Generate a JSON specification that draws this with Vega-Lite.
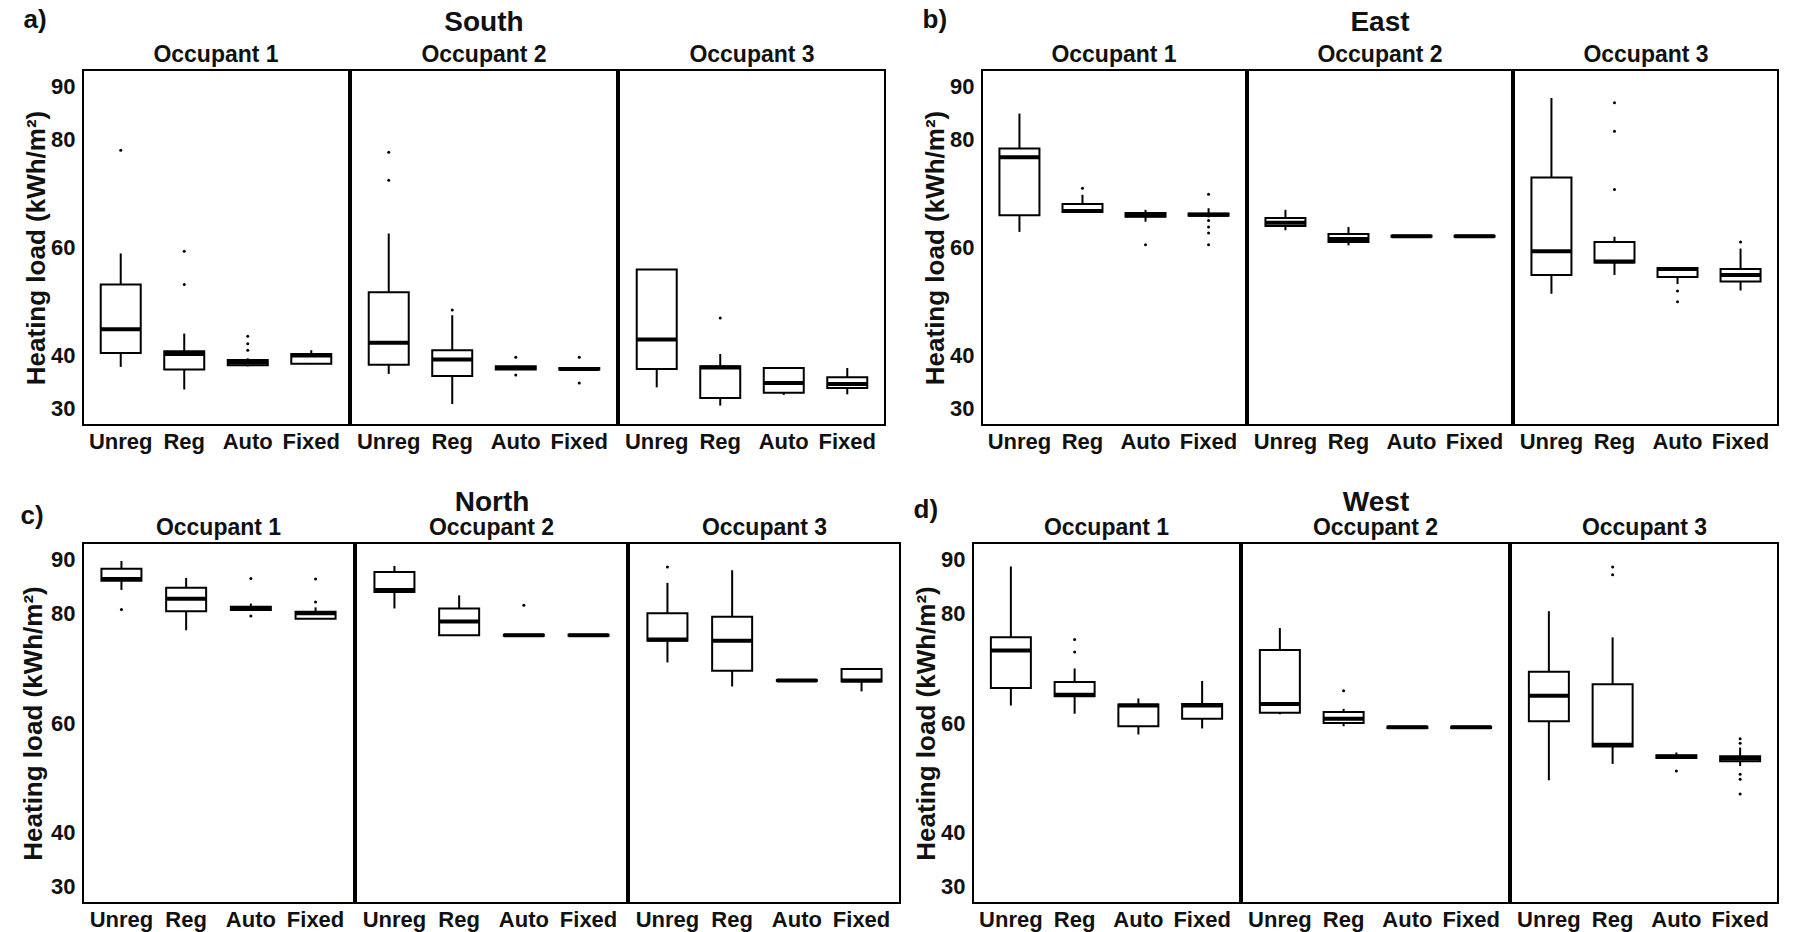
{
 "$schema": "https://vega.github.io/schema/vega-lite/v6.json",
 "background": "white",
 "padding": {"left": 20, "top": 7, "right": 5, "bottom": 2},
 "config": {
  "font": "Liberation Sans",
  "view": {"stroke": "black", "strokeWidth": 2},
  "axis": {"labelFontSize": 22, "labelFontWeight": "bold", "labelColor": "#111", "titleFontSize": 26, "titleFontWeight": "bold", "titleColor": "#111", "grid": false, "domain": false, "ticks": false},
  "header": {"labelFontSize": 23, "labelFontWeight": "bold", "labelColor": "#111", "titleFontSize": 28, "titleFontWeight": "bold", "titleColor": "#111"},
  "title": {"fontSize": 26, "fontWeight": "bold", "color": "#111", "anchor": "start"}
 },
 "datasets": {
  "d": [
   {"p":"South","o":"Occupant 1","c":"Unreg","lo":37.8,"q1":40.4,"med":44.8,"q3":53.1,"hi":58.9},
   {"p":"South","o":"Occupant 1","c":"Unreg","v":78.1},
   {"p":"South","o":"Occupant 1","c":"Reg","lo":33.6,"q1":37.3,"med":40.2,"q3":40.7,"hi":44.0},
   {"p":"South","o":"Occupant 1","c":"Reg","v":59.3},
   {"p":"South","o":"Occupant 1","c":"Reg","v":53.1},
   {"p":"South","o":"Occupant 1","c":"Auto","lo":37.9,"q1":38.1,"med":38.6,"q3":39.1,"hi":39.4},
   {"p":"South","o":"Occupant 1","c":"Auto","v":43.5},
   {"p":"South","o":"Occupant 1","c":"Auto","v":42.1},
   {"p":"South","o":"Occupant 1","c":"Auto","v":40.9},
   {"p":"South","o":"Occupant 1","c":"Fixed","lo":38.3,"q1":38.4,"med":39.9,"q3":40.2,"hi":40.9},
   {"p":"South","o":"Occupant 2","c":"Unreg","lo":36.5,"q1":38.2,"med":42.3,"q3":51.7,"hi":62.6},
   {"p":"South","o":"Occupant 2","c":"Unreg","v":77.7},
   {"p":"South","o":"Occupant 2","c":"Unreg","v":72.5},
   {"p":"South","o":"Occupant 2","c":"Reg","lo":30.9,"q1":36.1,"med":39.2,"q3":40.9,"hi":47.4},
   {"p":"South","o":"Occupant 2","c":"Reg","v":48.4},
   {"p":"South","o":"Occupant 2","c":"Auto","lo":37.2,"q1":37.3,"med":37.6,"q3":37.9,"hi":38.0},
   {"p":"South","o":"Occupant 2","c":"Auto","v":39.6},
   {"p":"South","o":"Occupant 2","c":"Auto","v":36.3},
   {"p":"South","o":"Occupant 2","c":"Fixed","lo":37.2,"q1":37.3,"med":37.4,"q3":37.6,"hi":37.7},
   {"p":"South","o":"Occupant 2","c":"Fixed","v":39.6},
   {"p":"South","o":"Occupant 2","c":"Fixed","v":34.8},
   {"p":"South","o":"Occupant 3","c":"Unreg","lo":34.0,"q1":37.4,"med":42.9,"q3":55.9,"hi":55.9},
   {"p":"South","o":"Occupant 3","c":"Reg","lo":30.6,"q1":32.0,"med":37.7,"q3":37.9,"hi":40.2},
   {"p":"South","o":"Occupant 3","c":"Reg","v":46.9},
   {"p":"South","o":"Occupant 3","c":"Auto","lo":32.6,"q1":33.0,"med":34.8,"q3":37.6,"hi":37.6},
   {"p":"South","o":"Occupant 3","c":"Fixed","lo":32.7,"q1":33.9,"med":34.6,"q3":35.9,"hi":37.6},

   {"p":"East","o":"Occupant 1","c":"Unreg","lo":62.9,"q1":66.0,"med":76.8,"q3":78.4,"hi":84.9},
   {"p":"East","o":"Occupant 1","c":"Reg","lo":66.6,"q1":66.6,"med":66.8,"q3":68.1,"hi":69.8},
   {"p":"East","o":"Occupant 1","c":"Reg","v":71.0},
   {"p":"East","o":"Occupant 1","c":"Auto","lo":64.8,"q1":65.7,"med":66.0,"q3":66.4,"hi":67.0},
   {"p":"East","o":"Occupant 1","c":"Auto","v":60.5},
   {"p":"East","o":"Occupant 1","c":"Fixed","lo":65.6,"q1":65.9,"med":66.1,"q3":66.3,"hi":67.3},
   {"p":"East","o":"Occupant 1","c":"Fixed","v":69.9},
   {"p":"East","o":"Occupant 1","c":"Fixed","v":65.0},
   {"p":"East","o":"Occupant 1","c":"Fixed","v":63.8},
   {"p":"East","o":"Occupant 1","c":"Fixed","v":62.7},
   {"p":"East","o":"Occupant 1","c":"Fixed","v":60.5},
   {"p":"East","o":"Occupant 2","c":"Unreg","lo":63.2,"q1":64.0,"med":64.6,"q3":65.5,"hi":67.0},
   {"p":"East","o":"Occupant 2","c":"Reg","lo":60.4,"q1":61.0,"med":61.6,"q3":62.5,"hi":63.8},
   {"p":"East","o":"Occupant 2","c":"Auto","lo":62.0,"q1":62.0,"med":62.1,"q3":62.2,"hi":62.2},
   {"p":"East","o":"Occupant 2","c":"Fixed","lo":62.0,"q1":62.0,"med":62.1,"q3":62.2,"hi":62.2},
   {"p":"East","o":"Occupant 3","c":"Unreg","lo":51.4,"q1":54.9,"med":59.3,"q3":73.0,"hi":87.8},
   {"p":"East","o":"Occupant 3","c":"Reg","lo":54.9,"q1":57.2,"med":57.4,"q3":61.0,"hi":62.0},
   {"p":"East","o":"Occupant 3","c":"Reg","v":86.9},
   {"p":"East","o":"Occupant 3","c":"Reg","v":81.6},
   {"p":"East","o":"Occupant 3","c":"Reg","v":70.8},
   {"p":"East","o":"Occupant 3","c":"Auto","lo":53.2,"q1":54.5,"med":56.0,"q3":56.2,"hi":56.2},
   {"p":"East","o":"Occupant 3","c":"Auto","v":51.9},
   {"p":"East","o":"Occupant 3","c":"Auto","v":49.9},
   {"p":"East","o":"Occupant 3","c":"Fixed","lo":52.0,"q1":53.7,"med":54.9,"q3":56.0,"hi":59.8},
   {"p":"East","o":"Occupant 3","c":"Fixed","v":61.0},

   {"p":"North","o":"Occupant 1","c":"Unreg","lo":84.4,"q1":86.1,"med":86.4,"q3":88.3,"hi":89.7},
   {"p":"North","o":"Occupant 1","c":"Unreg","v":80.8},
   {"p":"North","o":"Occupant 1","c":"Reg","lo":77.0,"q1":80.5,"med":82.8,"q3":84.8,"hi":86.6},
   {"p":"North","o":"Occupant 1","c":"Auto","lo":80.7,"q1":80.7,"med":81.0,"q3":81.3,"hi":81.9},
   {"p":"North","o":"Occupant 1","c":"Auto","v":86.5},
   {"p":"North","o":"Occupant 1","c":"Auto","v":79.6},
   {"p":"North","o":"Occupant 1","c":"Fixed","lo":79.1,"q1":79.1,"med":80.1,"q3":80.4,"hi":81.2},
   {"p":"North","o":"Occupant 1","c":"Fixed","v":86.4},
   {"p":"North","o":"Occupant 1","c":"Fixed","v":82.2},
   {"p":"North","o":"Occupant 2","c":"Unreg","lo":81.0,"q1":84.0,"med":84.4,"q3":87.7,"hi":88.8},
   {"p":"North","o":"Occupant 2","c":"Reg","lo":76.1,"q1":76.1,"med":78.6,"q3":81.0,"hi":83.4},
   {"p":"North","o":"Occupant 2","c":"Auto","lo":76.0,"q1":76.0,"med":76.1,"q3":76.2,"hi":76.2},
   {"p":"North","o":"Occupant 2","c":"Auto","v":81.6},
   {"p":"North","o":"Occupant 2","c":"Fixed","lo":76.0,"q1":76.0,"med":76.1,"q3":76.2,"hi":76.2},
   {"p":"North","o":"Occupant 3","c":"Unreg","lo":71.1,"q1":75.1,"med":75.3,"q3":80.1,"hi":85.7},
   {"p":"North","o":"Occupant 3","c":"Unreg","v":88.6},
   {"p":"North","o":"Occupant 3","c":"Reg","lo":66.7,"q1":69.6,"med":75.1,"q3":79.5,"hi":88.0},
   {"p":"North","o":"Occupant 3","c":"Auto","lo":67.7,"q1":67.7,"med":67.8,"q3":67.9,"hi":67.9},
   {"p":"North","o":"Occupant 3","c":"Fixed","lo":65.8,"q1":67.6,"med":67.8,"q3":69.9,"hi":69.9},

   {"p":"West","o":"Occupant 1","c":"Unreg","lo":63.2,"q1":66.4,"med":73.3,"q3":75.7,"hi":88.7},
   {"p":"West","o":"Occupant 1","c":"Reg","lo":61.7,"q1":64.9,"med":65.2,"q3":67.5,"hi":70.0},
   {"p":"West","o":"Occupant 1","c":"Reg","v":75.3},
   {"p":"West","o":"Occupant 1","c":"Reg","v":73.0},
   {"p":"West","o":"Occupant 1","c":"Auto","lo":57.9,"q1":59.4,"med":63.2,"q3":63.4,"hi":64.5},
   {"p":"West","o":"Occupant 1","c":"Fixed","lo":59.0,"q1":60.8,"med":63.2,"q3":63.5,"hi":67.7},
   {"p":"West","o":"Occupant 2","c":"Unreg","lo":61.6,"q1":61.9,"med":63.5,"q3":73.4,"hi":77.4},
   {"p":"West","o":"Occupant 2","c":"Reg","lo":59.4,"q1":60.0,"med":60.8,"q3":62.0,"hi":62.6},
   {"p":"West","o":"Occupant 2","c":"Reg","v":65.9},
   {"p":"West","o":"Occupant 2","c":"Auto","lo":59.1,"q1":59.1,"med":59.2,"q3":59.3,"hi":59.3},
   {"p":"West","o":"Occupant 2","c":"Fixed","lo":59.1,"q1":59.1,"med":59.2,"q3":59.3,"hi":59.3},
   {"p":"West","o":"Occupant 3","c":"Unreg","lo":49.5,"q1":60.3,"med":65.0,"q3":69.4,"hi":80.5},
   {"p":"West","o":"Occupant 3","c":"Reg","lo":52.5,"q1":55.7,"med":56.0,"q3":67.1,"hi":75.7},
   {"p":"West","o":"Occupant 3","c":"Reg","v":88.6},
   {"p":"West","o":"Occupant 3","c":"Reg","v":87.2},
   {"p":"West","o":"Occupant 3","c":"Auto","lo":53.6,"q1":53.6,"med":53.8,"q3":54.1,"hi":54.6},
   {"p":"West","o":"Occupant 3","c":"Auto","v":51.2},
   {"p":"West","o":"Occupant 3","c":"Fixed","lo":52.1,"q1":53.0,"med":53.5,"q3":53.9,"hi":55.5},
   {"p":"West","o":"Occupant 3","c":"Fixed","v":57.1},
   {"p":"West","o":"Occupant 3","c":"Fixed","v":56.3},
   {"p":"West","o":"Occupant 3","c":"Fixed","v":50.6},
   {"p":"West","o":"Occupant 3","c":"Fixed","v":49.7},
   {"p":"West","o":"Occupant 3","c":"Fixed","v":47.0}
  ]
 },
 "vconcat": [
  {
   "hconcat": [
    {
     "title": {"text": "a)", "anchor": "start", "frame": "bounds", "offset": -24},
     "data": {"name": "d"},
     "transform": [{"filter": "datum.p === 'South'"}],
     "facet": {"column": {"field": "o", "type": "nominal", "title": "South", "header": {"titlePadding": -3, "labelPadding": 2}}},
     "spacing": 0,
     "spec": {
      "width": 266, "height": 355,
      "encoding": {"x": {"field": "c", "type": "nominal", "sort": ["Unreg","Reg","Auto","Fixed"], "scale": {"paddingInner": 0, "paddingOuter": 0.094}, "title": null, "axis": {"labelAngle": 0, "labelPadding": 5, "labelOverlap": false}}},
      "layer": [
       {"transform": [{"filter": "isValid(datum.med)"}], "mark": {"type": "rule", "color": "black", "strokeWidth": 2}, "encoding": {"y": {"field": "lo", "type": "quantitative", "scale": {"domain": [27, 93], "nice": false, "zero": false}, "title": "Heating load (kWh/m²)", "axis": {"values": [30,40,60,80,90], "labelPadding": 7, "titlePadding": 1}}, "y2": {"field": "hi"}}},
       {"transform": [{"filter": "isValid(datum.med)"}], "mark": {"type": "bar", "fill": "white", "stroke": "black", "strokeWidth": 2, "size": 40}, "encoding": {"y": {"field": "q1", "type": "quantitative", "title": "Heating load (kWh/m²)"}, "y2": {"field": "q3"}}},
       {"transform": [{"filter": "isValid(datum.med)"}], "mark": {"type": "tick", "color": "black", "opacity": 1, "thickness": 4, "size": 40}, "encoding": {"y": {"field": "med", "type": "quantitative", "title": "Heating load (kWh/m²)"}}},
       {"transform": [{"filter": "isValid(datum.v)"}], "mark": {"type": "point", "filled": true, "color": "black", "size": 9, "opacity": 1}, "encoding": {"y": {"field": "v", "type": "quantitative", "title": "Heating load (kWh/m²)"}}}
      ]
     }
    },
    {
     "title": {"text": "b)", "anchor": "start", "frame": "bounds", "offset": -24},
     "data": {"name": "d"},
     "transform": [{"filter": "datum.p === 'East'"}],
     "facet": {"column": {"field": "o", "type": "nominal", "title": "East", "header": {"titlePadding": -3, "labelPadding": 2}}},
     "spacing": 0,
     "spec": {
      "width": 264, "height": 355,
      "encoding": {"x": {"field": "c", "type": "nominal", "sort": ["Unreg","Reg","Auto","Fixed"], "scale": {"paddingInner": 0, "paddingOuter": 0.094}, "title": null, "axis": {"labelAngle": 0, "labelPadding": 5, "labelOverlap": false}}},
      "layer": [
       {"transform": [{"filter": "isValid(datum.med)"}], "mark": {"type": "rule", "color": "black", "strokeWidth": 2}, "encoding": {"y": {"field": "lo", "type": "quantitative", "scale": {"domain": [27, 93], "nice": false, "zero": false}, "title": "Heating load (kWh/m²)", "axis": {"values": [30,40,60,80,90], "labelPadding": 7, "titlePadding": 1}}, "y2": {"field": "hi"}}},
       {"transform": [{"filter": "isValid(datum.med)"}], "mark": {"type": "bar", "fill": "white", "stroke": "black", "strokeWidth": 2, "size": 40}, "encoding": {"y": {"field": "q1", "type": "quantitative", "title": "Heating load (kWh/m²)"}, "y2": {"field": "q3"}}},
       {"transform": [{"filter": "isValid(datum.med)"}], "mark": {"type": "tick", "color": "black", "opacity": 1, "thickness": 4, "size": 40}, "encoding": {"y": {"field": "med", "type": "quantitative", "title": "Heating load (kWh/m²)"}}},
       {"transform": [{"filter": "isValid(datum.v)"}], "mark": {"type": "point", "filled": true, "color": "black", "size": 9, "opacity": 1}, "encoding": {"y": {"field": "v", "type": "quantitative", "title": "Heating load (kWh/m²)"}}}
      ]
     }
    }
   ],
   "spacing": 36
  },
  {
   "hconcat": [
    {
     "title": {"text": "c)", "anchor": "start", "frame": "bounds", "offset": -40},
     "data": {"name": "d"},
     "transform": [{"filter": "datum.p === 'North'"}],
     "facet": {"column": {"field": "o", "type": "nominal", "title": "North", "header": {"titlePadding": -10, "labelPadding": 2}}},
     "spacing": 0,
     "spec": {
      "width": 271, "height": 360,
      "encoding": {"x": {"field": "c", "type": "nominal", "sort": ["Unreg","Reg","Auto","Fixed"], "scale": {"paddingInner": 0, "paddingOuter": 0.094}, "title": null, "axis": {"labelAngle": 0, "labelPadding": 5, "labelOverlap": false}}},
      "layer": [
       {"transform": [{"filter": "isValid(datum.med)"}], "mark": {"type": "rule", "color": "black", "strokeWidth": 2}, "encoding": {"y": {"field": "lo", "type": "quantitative", "scale": {"domain": [27, 93], "nice": false, "zero": false}, "title": "Heating load (kWh/m²)", "axis": {"values": [30,40,60,80,90], "labelPadding": 7, "titlePadding": 4}}, "y2": {"field": "hi"}}},
       {"transform": [{"filter": "isValid(datum.med)"}], "mark": {"type": "bar", "fill": "white", "stroke": "black", "strokeWidth": 2, "size": 40}, "encoding": {"y": {"field": "q1", "type": "quantitative", "title": "Heating load (kWh/m²)"}, "y2": {"field": "q3"}}},
       {"transform": [{"filter": "isValid(datum.med)"}], "mark": {"type": "tick", "color": "black", "opacity": 1, "thickness": 4, "size": 40}, "encoding": {"y": {"field": "med", "type": "quantitative", "title": "Heating load (kWh/m²)"}}},
       {"transform": [{"filter": "isValid(datum.v)"}], "mark": {"type": "point", "filled": true, "color": "black", "size": 9, "opacity": 1}, "encoding": {"y": {"field": "v", "type": "quantitative", "title": "Heating load (kWh/m²)"}}}
      ]
     }
    },
    {
     "title": {"text": "d)", "anchor": "start", "frame": "bounds", "offset": -34},
     "data": {"name": "d"},
     "transform": [{"filter": "datum.p === 'West'"}],
     "facet": {"column": {"field": "o", "type": "nominal", "title": "West", "header": {"titlePadding": -10, "labelPadding": 2}}},
     "spacing": 0,
     "spec": {
      "width": 267, "height": 360,
      "encoding": {"x": {"field": "c", "type": "nominal", "sort": ["Unreg","Reg","Auto","Fixed"], "scale": {"paddingInner": 0, "paddingOuter": 0.094}, "title": null, "axis": {"labelAngle": 0, "labelPadding": 5, "labelOverlap": false}}},
      "layer": [
       {"transform": [{"filter": "isValid(datum.med)"}], "mark": {"type": "rule", "color": "black", "strokeWidth": 2}, "encoding": {"y": {"field": "lo", "type": "quantitative", "scale": {"domain": [27, 93], "nice": false, "zero": false}, "title": "Heating load (kWh/m²)", "axis": {"values": [30,40,60,80,90], "labelPadding": 7, "titlePadding": 1}}, "y2": {"field": "hi"}}},
       {"transform": [{"filter": "isValid(datum.med)"}], "mark": {"type": "bar", "fill": "white", "stroke": "black", "strokeWidth": 2, "size": 40}, "encoding": {"y": {"field": "q1", "type": "quantitative", "title": "Heating load (kWh/m²)"}, "y2": {"field": "q3"}}},
       {"transform": [{"filter": "isValid(datum.med)"}], "mark": {"type": "tick", "color": "black", "opacity": 1, "thickness": 4, "size": 40}, "encoding": {"y": {"field": "med", "type": "quantitative", "title": "Heating load (kWh/m²)"}}},
       {"transform": [{"filter": "isValid(datum.v)"}], "mark": {"type": "point", "filled": true, "color": "black", "size": 9, "opacity": 1}, "encoding": {"y": {"field": "v", "type": "quantitative", "title": "Heating load (kWh/m²)"}}}
      ]
     }
    }
   ],
   "spacing": 12
  }
 ],
 "spacing": 37
}
